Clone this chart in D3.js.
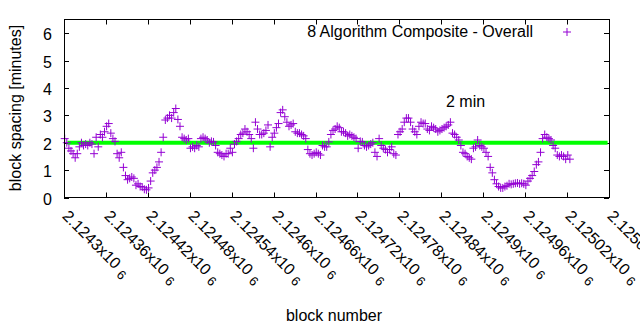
<!DOCTYPE html>
<html>
<head>
<meta charset="utf-8">
<script src="https://cdn.jsdelivr.net/npm/d3@7"></script>
<style>
body { margin: 0; background: #fff; }
text { font-family: "Liberation Sans", Arial, sans-serif; fill: #000; }
</style>
</head>
<body>
<script>
// block spacing, one point every 3 blocks starting at firstBlock
var firstBlock = 2124301;
var blockStep = 3;
var spacing = [
 2.15,2.0,1.8,1.7,1.6,1.45,1.6,1.85,2.0,1.9,
 1.95,1.9,2.0,1.95,1.6,2.2,1.85,2.3,2.2,2.4,
 2.6,2.7,2.35,2.15,2.05,1.6,1.45,1.65,1.1,0.8,
 0.65,0.7,0.75,0.7,0.45,0.5,0.4,0.38,0.3,0.28,
 0.35,0.6,0.9,1.0,1.1,1.3,1.65,2.2,2.83,2.9,
 3.0,2.9,3.1,3.25,2.85,2.6,2.2,2.15,2.1,2.15,
 1.8,1.85,1.8,1.9,1.85,2.15,2.2,2.15,2.1,2.0,
 2.05,2.03,1.9,1.65,1.6,1.55,1.5,1.6,1.6,1.8,
 1.65,1.95,2.05,2.15,2.3,2.35,2.5,2.4,2.3,2.15,
 1.8,2.75,2.5,2.3,2.3,2.35,2.45,2.65,1.85,2.2,
 2.35,2.55,2.7,3.1,3.2,2.95,2.75,2.6,2.65,2.7,
 2.4,2.35,2.35,2.3,2.25,2.15,1.75,1.6,1.55,1.6,
 1.65,1.6,1.55,1.9,1.85,1.85,2.03,2.3,2.45,2.5,
 2.6,2.55,2.4,2.4,2.35,2.25,2.3,2.25,2.2,2.15,
 1.8,2.05,2.03,1.9,1.85,1.9,1.95,2.0,1.65,1.5,
 2.15,1.9,1.8,1.75,1.65,1.75,1.85,1.6,1.55,2.3,
 2.4,2.5,2.75,2.9,2.9,2.75,2.5,2.4,2.3,2.6,
 2.75,2.7,2.7,2.5,2.45,2.6,2.55,2.5,2.4,2.45,
 2.5,2.55,2.6,2.65,2.75,2.35,2.3,2.2,2.1,1.9,
 1.65,1.6,1.5,1.45,1.4,1.8,1.85,2.1,1.9,1.85,
 1.8,1.65,1.5,1.1,0.9,0.65,0.5,0.4,0.35,0.35,
 0.4,0.43,0.5,0.48,0.5,0.52,0.53,0.5,0.52,0.5,
 0.45,0.6,0.7,0.8,0.95,1.2,1.3,1.65,2.15,2.3,
 2.2,2.15,2.1,1.9,1.8,1.55,1.5,1.55,1.5,1.4,
 1.55,1.4
];
var targetBlocks = [2124305, 2125078];
var targetValue = 2;
var xTicks = [2124300,2124360,2124420,2124480,2124540,2124600,2124660,
              2124720,2124780,2124840,2124900,2124960,2125020,2125080];
var yTicks = [0,1,2,3,4,5,6];
var seriesName = "8 Algorithm Composite - Overall";

function drawChart() {
	var W = 640, H = 330;
	var pLeft = 64, pRight = 609, pTop = 19.5, pBottom = 197.5;
	var fs = 16;

	var svg = d3.select("body").append("svg")
		.attr("width", W).attr("height", H);

	var x = d3.scaleLinear().domain([2124300, 2125080]).range([pLeft, pRight]);
	var y = d3.scaleLinear().domain([0, 6.5]).range([pBottom, pTop]);

	var data = spacing.map(function(v, i) { return {b: firstBlock + i * blockStep, v: v}; });

	// ticks (inward, mirrored)
	var tl = 5;
	var axisG = svg.append("g").attr("stroke", "#000").attr("stroke-width", 1);
	yTicks.forEach(function(t) {
		var yy = Math.round(y(t)) + 0.5;
		axisG.append("line").attr("x1", pLeft).attr("x2", pLeft + tl).attr("y1", yy).attr("y2", yy);
		axisG.append("line").attr("x1", pRight).attr("x2", pRight - tl).attr("y1", yy).attr("y2", yy);
		svg.append("text").attr("x", 52).attr("y", yy + 6)
			.attr("text-anchor", "end").attr("font-size", fs).text(t);
	});
	xTicks.forEach(function(t) {
		var xx = Math.round(x(t)) + 0.5;
		axisG.append("line").attr("x1", xx).attr("x2", xx).attr("y1", pBottom).attr("y2", pBottom - tl);
		axisG.append("line").attr("x1", xx).attr("x2", xx).attr("y1", pTop).attr("y2", pTop + tl);
		var s = String(t / 1e6);
		var lab = svg.append("text")
			.attr("transform", "translate(" + (xx - 3) + ",217) rotate(45)")
			.attr("font-size", fs);
		lab.append("tspan").text(s + "x10");
		lab.append("tspan").attr("dx", 5).attr("dy", 3).attr("font-size", 13).text("6");
	});

	// target line
	svg.append("line")
		.attr("x1", x(targetBlocks[0])).attr("x2", x(targetBlocks[1]))
		.attr("y1", y(targetValue)).attr("y2", y(targetValue))
		.attr("stroke", "#00ff00").attr("stroke-width", 4);

	// points
	var arm = 4;
	var pts = svg.append("g").attr("stroke", "#9400d3").attr("stroke-width", 1);
	pts.selectAll("path").data(data).enter().append("path")
		.attr("d", function(d) {
			var px = x(d.b), py = y(d.v);
			return "M" + (px - arm) + "," + py + "H" + (px + arm) +
			       "M" + px + "," + (py - arm) + "V" + (py + arm);
		});

	// frame
	svg.append("rect").attr("x", pLeft + 0.5).attr("y", pTop)
		.attr("width", pRight - pLeft).attr("height", pBottom - pTop)
		.attr("fill", "none").attr("stroke", "#000").attr("stroke-width", 1);

	// legend
	svg.append("text").attr("x", 533).attr("y", 37).attr("text-anchor", "end")
		.attr("font-size", fs).text(seriesName);
	svg.append("path")
		.attr("d", "M" + (567 - arm) + ",32H" + (567 + arm) + "M567," + (32 - arm) + "V" + (32 + arm))
		.attr("stroke", "#9400d3").attr("stroke-width", 1);

	svg.append("text").attr("x", 446).attr("y", 107).attr("font-size", fs).text("2 min");

	// axis titles
	svg.append("text").attr("x", 334).attr("y", 321).attr("text-anchor", "middle")
		.attr("font-size", fs).text("block number");
	svg.append("text").attr("transform", "translate(21,108) rotate(-90)")
		.attr("text-anchor", "middle").attr("font-size", fs).text("block spacing [minutes]");
}

drawChart();
</script>
</body>
</html>
